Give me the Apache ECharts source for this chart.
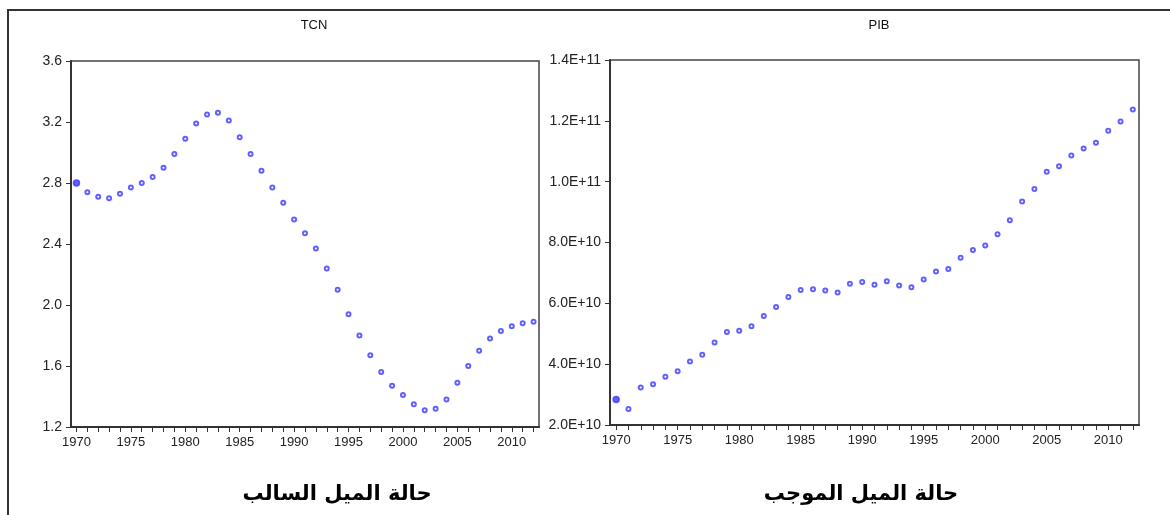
<!DOCTYPE html>
<html>
<head>
<meta charset="utf-8">
<script src="https://cdn.jsdelivr.net/npm/echarts@6/dist/echarts.min.js"></script>
<style>html,body{margin:0;padding:0;background:#fff}#c{width:1170px;height:515px}</style>
</head>
<body>
<div id="c"></div>
<script>
var years = [];
for (var y = 1970; y <= 2012; y++) years.push(y);
var yearLabels = [1970, 1975, 1980, 1985, 1990, 1995, 2000, 2005, 2010];
var tcnValues = [2.80, 2.74, 2.71, 2.70, 2.73, 2.77, 2.80, 2.84, 2.90, 2.99,
  3.09, 3.19, 3.25, 3.26, 3.21, 3.10, 2.99, 2.88, 2.77, 2.67,
  2.56, 2.47, 2.37, 2.24, 2.10, 1.94, 1.80, 1.67, 1.56, 1.47,
  1.41, 1.35, 1.31, 1.32, 1.38, 1.49, 1.60, 1.70, 1.78, 1.83,
  1.86, 1.88, 1.89];
var pibValues = [2.84e10, 2.53e10, 3.23e10, 3.34e10, 3.59e10, 3.77e10, 4.09e10, 4.31e10, 4.71e10, 5.06e10,
  5.10e10, 5.25e10, 5.58e10, 5.88e10, 6.21e10, 6.44e10, 6.46e10, 6.42e10, 6.36e10, 6.64e10,
  6.70e10, 6.61e10, 6.73e10, 6.59e10, 6.53e10, 6.78e10, 7.05e10, 7.13e10, 7.50e10, 7.75e10,
  7.90e10, 8.27e10, 8.73e10, 9.35e10, 9.76e10, 10.33e10, 10.51e10, 10.86e10, 11.09e10, 11.28e10,
  11.67e10, 11.98e10, 12.37e10];
var titles = ['TCN', 'PIB'];
var captions = ['حالة الميل السالب', 'حالة الميل الموجب'];

function toData(vals) {
  return vals.map(function (v, i) {
    var d = { value: [years[i], v] };
    if (i === 0) { d.symbol = 'circle'; d.symbolSize = 6; }
    return d;
  });
}
var dotColor = '#3a3aff';
var fam = 'Liberation Sans, Arial, sans-serif';
function xAxisFor(idx) {
  return {
    type: 'value', gridIndex: idx, min: 1969.5, max: 2012.5,
    axisLine: { show: true, lineStyle: { color: '#333', width: 2 } },
    axisTick: { show: true, length: 5, inside: false, customValues: years, lineStyle: { color: '#333', width: 1 } },
    axisLabel: { customValues: yearLabels, margin: 9, color: '#222', fontSize: 13, fontFamily: fam,
      formatter: function (v) { return String(Math.round(v)); } },
    splitLine: { show: false }
  };
}
function pibFmt(v) {
  if (v >= 1e11) return (v / 1e11).toFixed(1) + 'E+11';
  return (v / 1e10).toFixed(1) + 'E+10';
}
var chart = echarts.init(document.getElementById('c'));
chart.setOption({
  animation: false,
  backgroundColor: '#fff',
  title: [
    { text: titles[0], left: 309, top: 14, textAlign: 'center', textStyle: { fontSize: 13, fontWeight: 'normal', color: '#111', fontFamily: fam } },
    { text: titles[1], left: 874, top: 14, textAlign: 'center', textStyle: { fontSize: 13, fontWeight: 'normal', color: '#111', fontFamily: fam } },
    { text: captions[0], left: 332, top: 479, textAlign: 'center', textStyle: { fontSize: 21, fontWeight: 'bold', color: '#000', fontFamily: 'DejaVu Sans, sans-serif' } },
    { text: captions[1], left: 856, top: 479, textAlign: 'center', textStyle: { fontSize: 21, fontWeight: 'bold', color: '#000', fontFamily: 'DejaVu Sans, sans-serif' } }
  ],
  graphic: [{
    type: 'polyline', silent: true,
    shape: { points: [[8, 515], [8, 10], [1170, 10]] },
    style: { stroke: '#333', lineWidth: 2, fill: null }
  }],
  grid: [
    { left: 71, top: 61, width: 468, height: 366, show: true, borderColor: '#444', borderWidth: 1.5, backgroundColor: '#fff' },
    { left: 610, top: 60, width: 529, height: 365, show: true, borderColor: '#444', borderWidth: 1.5, backgroundColor: '#fff' }
  ],
  xAxis: [xAxisFor(0), xAxisFor(1)],
  yAxis: [
    {
      type: 'value', gridIndex: 0, min: 1.2, max: 3.6, interval: 0.4,
      axisLine: { show: true, lineStyle: { color: '#333', width: 2 } },
      axisTick: { show: true, length: 5, lineStyle: { color: '#333' } },
      axisLabel: { margin: 9, color: '#222', fontSize: 14, fontFamily: fam, formatter: function (v) { return v.toFixed(1); } },
      splitLine: { show: false }
    },
    {
      type: 'value', gridIndex: 1, min: 2e10, max: 1.4e11, interval: 2e10,
      axisLine: { show: true, lineStyle: { color: '#333', width: 2 } },
      axisTick: { show: true, length: 5, lineStyle: { color: '#333' } },
      axisLabel: { margin: 9, color: '#222', fontSize: 14, fontFamily: fam, formatter: pibFmt },
      splitLine: { show: false }
    }
  ],
  series: [
    { type: 'scatter', xAxisIndex: 0, yAxisIndex: 0, symbol: 'emptyCircle', symbolSize: 4,
      itemStyle: { color: dotColor, borderColor: dotColor, borderWidth: 1.5 }, data: toData(tcnValues) },
    { type: 'scatter', xAxisIndex: 1, yAxisIndex: 1, symbol: 'emptyCircle', symbolSize: 4,
      itemStyle: { color: dotColor, borderColor: dotColor, borderWidth: 1.5 }, data: toData(pibValues) }
  ]
});
</script>
</body>
</html>
